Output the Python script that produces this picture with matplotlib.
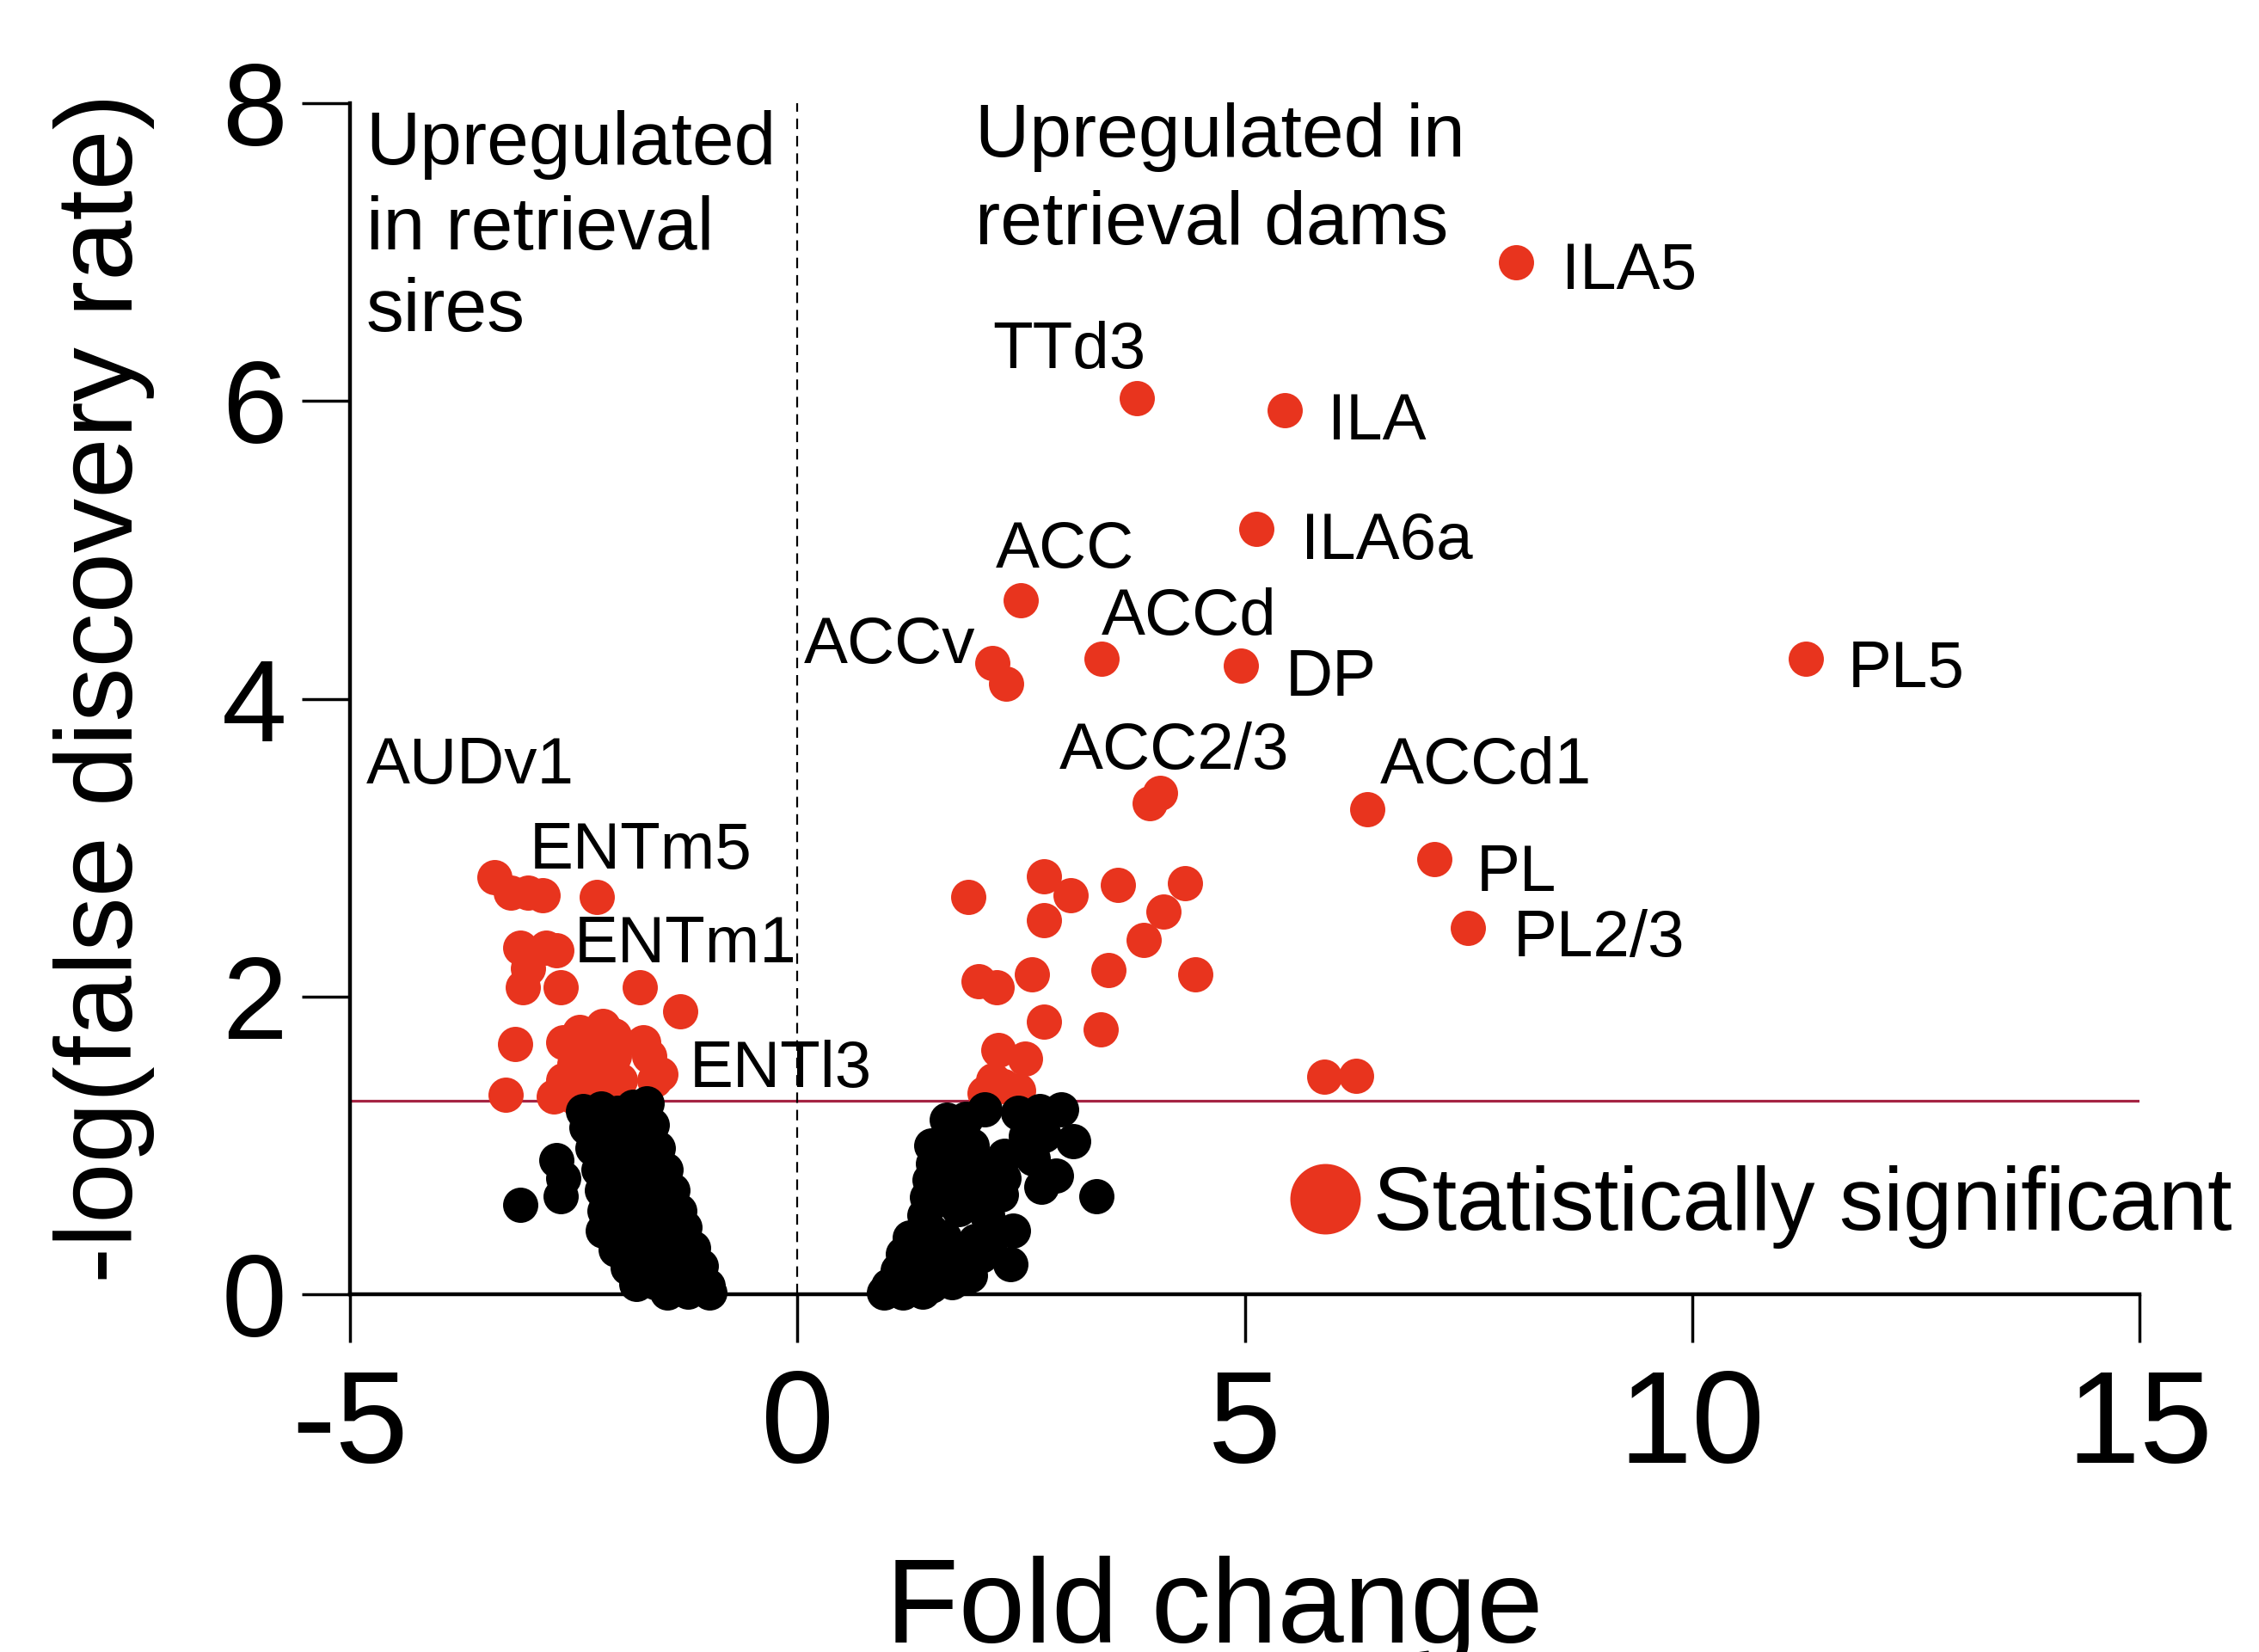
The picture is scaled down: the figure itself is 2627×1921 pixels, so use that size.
import matplotlib
matplotlib.use("Agg")
import matplotlib.pyplot as plt
from matplotlib.lines import Line2D

plt.rcParams["font.family"] = ["Liberation Sans", "DejaVu Sans"]
plt.rcParams["axes.unicode_minus"] = False

# ---------------- data ----------------
# named regions (significant, labelled)
label_names = ["ILA5", "TTd3", "ILA", "ILA6a", "ACC", "ACCv", "ACCd", "DP", "PL5",
               "ACC2/3", "ACCd1", "PL", "PL2/3", "AUDv1", "ENTm5", "ENTm1", "ENTl3"]
label_fc = [8.03, 3.79, 5.45, 5.13, 2.50, 2.18, 3.40, 4.96, 11.27,
            4.05, 6.37, 7.12, 7.49, -3.39, -2.24, -2.69, -1.53]
label_fdr = [6.93, 6.02, 5.94, 5.14, 4.66, 4.24, 4.27, 4.22, 4.27,
             3.37, 3.26, 2.92, 2.46, 2.80, 2.67, 2.31, 1.48]

# other significant regions
sig_fc = [2.33, 3.94, 1.91, 2.76, 3.05, 2.76, 3.58, 4.33, 4.09, 3.87, 3.48, 4.45,
          2.03, 2.23, 2.62, 2.76, 3.39, 2.25, 2.54, 2.19, 2.47, 2.09, 2.30, 5.89, 6.24,
          -3.20, -3.01, -2.85, -3.10, -2.81, -3.01, -3.07, -2.65, -1.76, -1.31, -3.15,
          -2.62, -2.43, -2.17, -2.05, -2.49, -2.27, -2.05, -2.62, -2.40, -2.17, -1.98,
          -2.72, -2.49, -2.27, -2.05, -1.72, -1.60, -1.66, -3.26]
sig_fdr = [4.10, 3.30, 2.67, 2.81, 2.68, 2.51, 2.75, 2.76, 2.57, 2.38, 2.18, 2.15,
           2.10, 2.06, 2.15, 1.83, 1.78, 1.64, 1.58, 1.44, 1.37, 1.35, 1.40, 1.46, 1.47,
           2.70, 2.70, 2.68, 2.33, 2.33, 2.19, 2.06, 2.06, 2.06, 1.90, 1.68,
           1.69, 1.76, 1.80, 1.74, 1.55, 1.62, 1.60, 1.44, 1.44, 1.48, 1.44,
           1.33, 1.32, 1.33, 1.35, 1.69, 1.44, 1.60, 1.34]

# non-significant regions
ns_fc = [-2.40, -2.19, -2.01, -1.84, -1.68, -1.70,
         -2.36, -2.17, -2.00, -1.83, -1.63,
         -2.29, -2.11, -1.93, -1.73, -1.56,
         -2.22, -2.05, -1.85, -1.67, -1.47,
         -2.18, -2.01, -1.81, -1.61, -1.40,
         -2.16, -1.95, -1.77, -1.55, -1.32,
         -2.17, -1.97, -1.74, -1.51, -1.26,
         -2.03, -1.82, -1.61, -1.40, -1.17,
         -1.90, -1.71, -1.48, -1.27, -1.08,
         -1.80, -1.59, -1.38, -1.18, -1.00,
         -1.45, -1.22, -0.98,
         -3.10, -2.69, -2.62, -2.65,
         2.09, 1.88, 1.67, 2.47, 2.71, 2.95, 3.08, 2.76, 2.55, 2.63, 2.89, 2.73, 3.34,
         1.50, 1.72, 1.95,
         1.52, 1.80, 2.06, 2.31,
         1.48, 1.74, 2.06, 2.30,
         1.45, 1.70, 1.98, 2.28,
         1.42, 1.80, 2.12,
         1.26, 1.50, 1.64, 1.99, 2.41, 2.20,
         1.18, 1.45, 1.75, 2.05,
         1.12, 1.36, 1.60, 1.93, 2.38,
         1.02, 1.25, 1.50, 1.73,
         0.97, 1.18, 1.40]
ns_fdr = [1.23, 1.25, 1.22, 1.26, 1.28, 1.27,
          1.12, 1.10, 1.13, 1.11, 1.14,
          0.98, 0.99, 0.97, 1.00, 0.98,
          0.84, 0.86, 0.83, 0.85, 0.84,
          0.70, 0.71, 0.69, 0.72, 0.70,
          0.56, 0.57, 0.55, 0.58, 0.56,
          0.43, 0.42, 0.44, 0.43, 0.45,
          0.30, 0.31, 0.29, 0.30, 0.31,
          0.18, 0.19, 0.17, 0.18, 0.19,
          0.07, 0.08, 0.06, 0.07, 0.06,
          0.01, 0.02, 0.01,
          0.60, 0.90, 0.78, 0.66,
          1.24, 1.18, 1.17, 1.22, 1.23, 1.24, 1.03, 1.07, 1.06, 0.91, 0.80, 0.72, 0.66,
          1.00, 1.02, 1.00,
          0.88, 0.90, 0.86, 0.93,
          0.77, 0.75, 0.76, 0.78,
          0.65, 0.63, 0.66, 0.67,
          0.53, 0.57, 0.53,
          0.38, 0.42, 0.38, 0.36, 0.43, 0.40,
          0.27, 0.28, 0.27, 0.26,
          0.16, 0.15, 0.17, 0.13, 0.20,
          0.06, 0.05, 0.06, 0.08,
          0.01, 0.01, 0.02]

fdr_cutoff = 1.301          # -log10(0.05)
x_ticks = [-5, 0, 5, 10, 15]
y_ticks = [0, 2, 4, 6, 8]

# label placement relative to each point: (dx, dy, horizontal alignment)
label_offsets = {
    "ILA5": (0.51, -0.18, "left"), "TTd3": (-1.61, 0.20, "left"),
    "ILA": (0.48, -0.20, "left"), "ILA6a": (0.50, -0.20, "left"),
    "ACC": (-0.28, 0.22, "left"), "ACCv": (-0.19, 0.00, "right"),
    "ACCd": (0.00, 0.16, "left"), "DP": (0.49, -0.20, "left"),
    "PL5": (0.47, -0.19, "left"), "ACC2/3": (-1.12, 0.16, "left"),
    "ACCd1": (0.14, 0.17, "left"), "PL": (0.47, -0.21, "left"),
    "PL2/3": (0.51, -0.19, "left"), "AUDv1": (-1.43, 0.63, "left"),
    "ENTm5": (-0.75, 0.19, "left"), "ENTm1": (0.20, -0.08, "left"),
    "ENTl3": (0.32, -0.09, "left"),
}

RED = "#e8341e"
LINE_RED = "#a52443"
MARKER_S = 870

# ---------------- figure ----------------
fig = plt.figure(figsize=(26.27, 19.21), dpi=100)
ax = fig.add_axes([0.15493, 0.21655, 0.79216, 0.72098])

ax.set_xlim(-5, 15)
ax.set_ylim(0, 8)

ax.axhline(fdr_cutoff, color=LINE_RED, lw=2.3, zorder=1)
ax.plot([0, 0], [0, 8], color="black", lw=1.6, ls=(0, (5.5, 3.6)), zorder=1)

ax.scatter(label_fc, label_fdr, s=MARKER_S, color=RED, linewidths=0, zorder=3, clip_on=False)
ax.scatter(sig_fc, sig_fdr, s=MARKER_S, color=RED, linewidths=0, zorder=3, clip_on=False)
ax.scatter(ns_fc, ns_fdr, s=MARKER_S, color="black", linewidths=0, zorder=4, clip_on=False)

for name, fx, fy in zip(label_names, label_fc, label_fdr):
    dx, dy, ha = label_offsets[name]
    ax.text(fx + dx, fy + dy, name, fontsize=55, ha=ha, va="baseline", zorder=5)

# group annotations
for txt, yy in zip(["Upregulated", "in retrieval", "sires"], [7.59, 7.02, 6.47]):
    ax.text(-4.82, yy, txt, fontsize=63, ha="left", va="baseline")
for txt, yy in zip(["Upregulated in", "retrieval dams"], [7.64, 7.05]):
    ax.text(1.99, yy, txt, fontsize=63, ha="left", va="baseline")

# axes styling
for side in ("top", "right"):
    ax.spines[side].set_visible(False)
for side in ("left", "bottom"):
    ax.spines[side].set_linewidth(3.2)

ax.set_xticks(x_ticks)
ax.set_xticklabels([str(t) for t in x_ticks])
ax.set_yticks(y_ticks)
ax.set_yticklabels([str(t) for t in y_ticks])
ax.tick_params(axis="x", direction="out", length=40, width=2.5, pad=22, labelsize=110)
ax.tick_params(axis="y", direction="out", length=40, width=2.5, pad=13, labelsize=98)

ax.set_ylabel("-log(false discovery rate)", fontsize=91)
ax.yaxis.set_label_coords(-0.109, 0.509)
ax.set_xlabel("Fold change", fontsize=100)
ax.xaxis.set_label_coords(0.483, -0.2924)
ax.xaxis.label.set_va("baseline")

handle = Line2D([0], [0], marker="o", ls="none", color=RED, markersize=59, markeredgewidth=0)
ax.legend([handle], ["Statistically significant"], loc="center left",
          bbox_to_anchor=(0.525, 0.073), frameon=False, fontsize=74,
          handlelength=0.8, handletextpad=0.15, borderpad=0, borderaxespad=0)

fig.savefig("out.png", dpi=100)
